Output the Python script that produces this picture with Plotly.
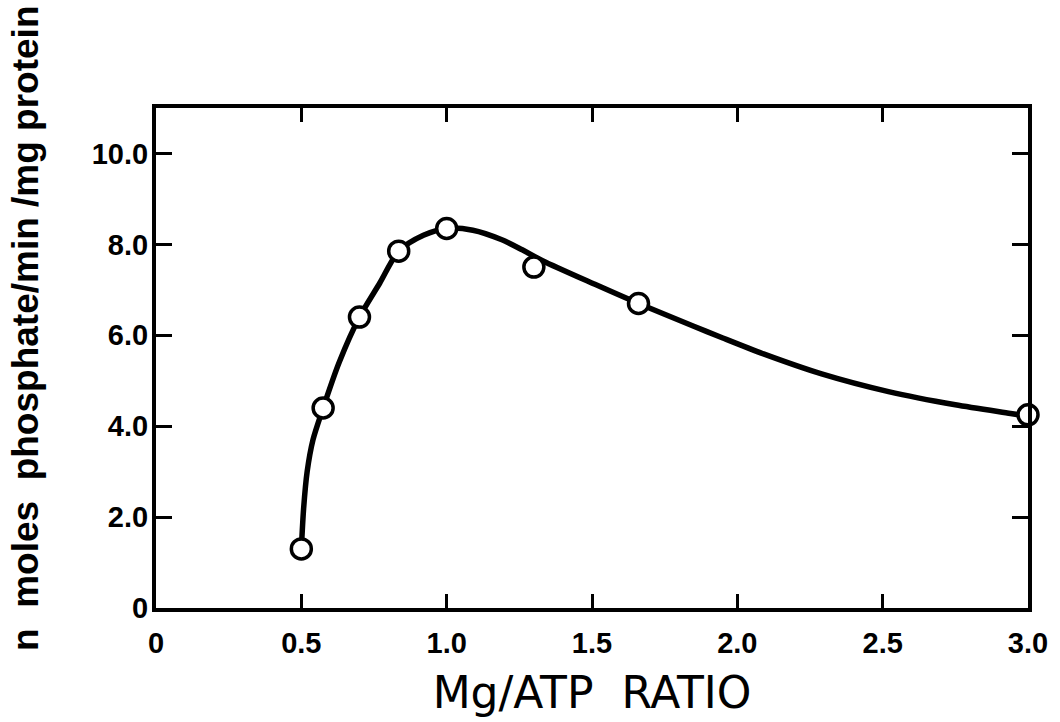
import plotly.graph_objects as go

# Measured activity at each Mg/ATP ratio
ratio = [0.5, 0.575, 0.70, 0.835, 1.0, 1.3, 1.66, 3.0]
activity = [1.3, 4.4, 6.4, 7.85, 8.35, 7.5, 6.7, 4.25]

# Hand-fitted smooth curve through the measurements
curve_ratio = [0.5, 0.508, 0.52, 0.54, 0.575, 0.63, 0.70, 0.77, 0.835, 0.92,
               1.0, 1.09, 1.19, 1.26, 1.33, 1.51, 1.66, 1.85, 1.95, 2.09,
               2.29, 2.52, 2.75, 2.94, 3.0]
curve_activity = [1.3, 2.2, 3.0, 3.7, 4.4, 5.4, 6.4, 7.15, 7.85, 8.2,
                  8.35, 8.31, 8.1, 7.88, 7.64, 7.12, 6.7, 6.2, 5.94, 5.59,
                  5.15, 4.76, 4.47, 4.28, 4.22]

x_ticks = [0, 0.5, 1.0, 1.5, 2.0, 2.5, 3.0]
x_labels = ["0", "0.5", "1.0", "1.5", "2.0", "2.5", "3.0"]
y_ticks = [0, 2, 4, 6, 8, 10]
y_labels = ["0", "2.0", "4.0", "6.0", "8.0", "10.0"]

fig = go.Figure()

fig.add_trace(go.Scatter(
    x=curve_ratio, y=curve_activity, mode="lines",
    line=dict(color="black", width=5.5, shape="spline", smoothing=0.8),
    hoverinfo="skip", showlegend=False,
))

fig.add_trace(go.Scatter(
    x=ratio, y=activity, mode="markers",
    marker=dict(symbol="circle", size=20, color="white",
                line=dict(color="black", width=3.5)),
    cliponaxis=False, showlegend=False,
))

tick_font = dict(family="Liberation Sans", size=29, color="black", weight="bold")

fig.update_layout(
    width=1060, height=722,
    margin=dict(l=156, r=23, t=108, b=110),
    paper_bgcolor="white", plot_bgcolor="white",
    xaxis=dict(
        range=[0, 3], tickvals=x_ticks, ticktext=x_labels,
        showgrid=False, zeroline=False,
        showline=True, linewidth=4, linecolor="black", mirror="ticks",
        ticks="inside", ticklen=14, tickwidth=3, tickcolor="black",
        tickfont=tick_font, ticklabelstandoff=6,
        title=dict(text="Mg/ATP\u00a0\u00a0RATIO",
                   font=dict(family="DejaVu Sans", size=44, color="black"),
                   standoff=20),
    ),
    yaxis=dict(
        range=[0, 11], tickvals=y_ticks, ticktext=y_labels,
        showgrid=False, zeroline=False,
        showline=True, linewidth=4, linecolor="black", mirror="ticks",
        ticks="inside", ticklen=16, tickwidth=3, tickcolor="black",
        tickfont=tick_font, ticklabelstandoff=-2,
    ),
    annotations=[dict(
        text="n\u00a0 moles\u00a0 phosphate/min /mg protein",
        textangle=-90, showarrow=False,
        xref="paper", yref="paper", x=0, y=0.56,
        xanchor="center", yanchor="middle", xshift=-131,
        font=dict(family="Liberation Sans", size=37, color="black",
                  weight="bold"),
    )],
)

fig.write_html("out.html")
